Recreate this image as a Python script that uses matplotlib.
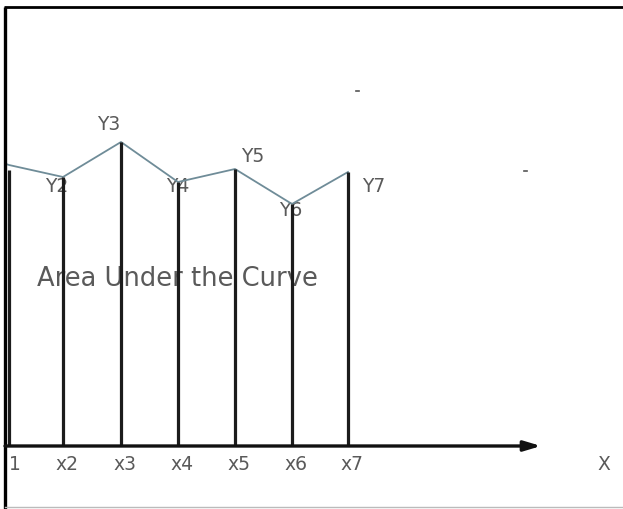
import matplotlib
matplotlib.use("Agg")
import matplotlib.pyplot as plt

# Data (x positions of ordinates and their heights above the x axis)
x_pos = [9, 63, 121, 178, 235, 292, 348]
y_vals = [281, 269, 304, 264, 277, 242, 274]
x_labels = ["1", "x2", "x3", "x4", "x5", "x6", "x7"]
y_labels = ["Y2", "Y3", "Y4", "Y5", "Y6", "Y7"]
y_label_pos = [(57, 260), (109, 322), (178, 260), (253, 291), (291, 237), (374, 261)]
title_text = "Area Under the Curve"
axis_name = "X"
specks = [(357, 355), (525, 275)]

fig = plt.figure(figsize=(6.23, 5.10), dpi=100)
ax = fig.add_axes([0, 0, 1, 1])
ax.set_xlim(0, 623)
ax.set_ylim(-63, 447)
ax.axis("off")

txt_col = "#5a5a5a"
line_col = "#1c1c1c"

# curve (extends to the left border)
ax.plot([6] + x_pos, [y_vals[0] + 1] + y_vals, color="#6f8c98", lw=1.3, zorder=2)

# ordinates
for xp, yv in zip(x_pos, y_vals):
    ax.plot([xp, xp], [0, yv - (5 if xp == x_pos[0] else 0)], color=line_col, lw=2.3,
            solid_capstyle="butt", zorder=3)

# x axis with arrow
ax.annotate("", xy=(541, 0), xytext=(5, 0),
            arrowprops=dict(arrowstyle="-|>,head_length=1.0,head_width=0.3",
                            lw=2.4, color="#111111", shrinkA=0, shrinkB=0),
            zorder=4)

# tick labels
for xp, lab in zip(x_pos, x_labels):
    off = 6 if lab == "1" else 4
    ax.text(xp + off, -18, lab, ha="center", va="center", fontsize=13.5,
            color=txt_col)
ax.text(604, -18, axis_name, ha="center", va="center", fontsize=13.5, color=txt_col)

# Y labels
for lab, (lx, ly) in zip(y_labels, y_label_pos):
    ax.text(lx, ly, lab, ha="center", va="center", fontsize=13.5, color=txt_col,
            zorder=1)

ax.text(177, 168, title_text, ha="center", va="center", fontsize=18.5,
        color=txt_col, zorder=1)

# small specks
for sx, sy in specks:
    ax.plot([sx - 1.5, sx + 1.5], [sy, sy], color="#555555", lw=1.2)

# frame
ax.plot([5, 5], [447 - 8, -63], color="#000000", lw=2.4, solid_capstyle="butt")
ax.plot([4, 623], [447 - 8, 447 - 8], color="#000000", lw=2.0, solid_capstyle="butt")
ax.plot([5, 623], [447 - 508, 447 - 508], color="#bbbbbb", lw=1.0)

fig.savefig("out.png", dpi=100, facecolor="white")
